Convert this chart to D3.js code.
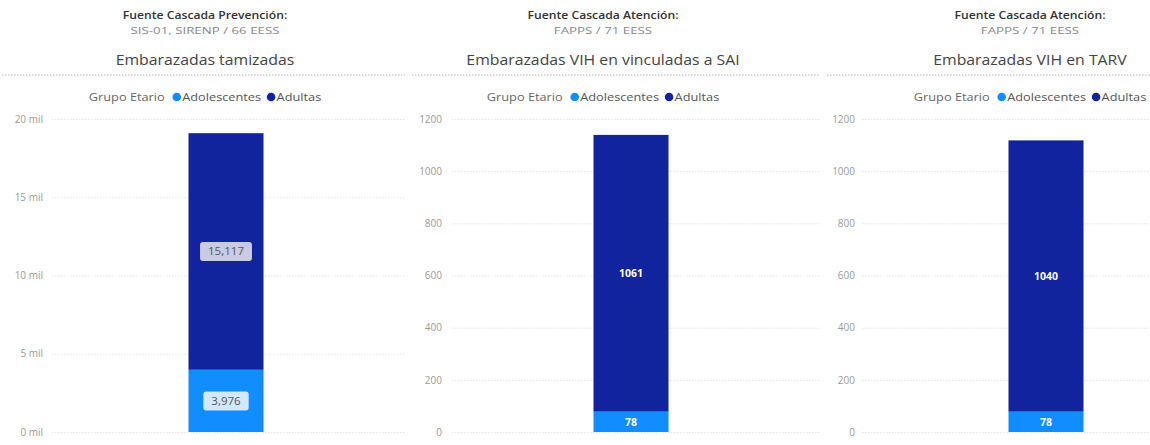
<!DOCTYPE html>
<html>
<head>
<meta charset="utf-8">
<script src="https://cdn.jsdelivr.net/npm/d3@7"></script>
<style>
  body { margin: 0; background: #fff; }
  svg { display: block; font-family: "Open Sans", "Noto Sans", sans-serif; }
</style>
</head>
<body>
<div id="chart"></div>
<script>
//Data
var sources = ["Fuente Cascada Prevención:", "Fuente Cascada Atención:", "Fuente Cascada Atención:"];
var sourceDetails = ["SIS-01, SIRENP / 66 EESS", "FAPPS / 71 EESS", "FAPPS / 71 EESS"];
var titles = ["Embarazadas tamizadas", "Embarazadas VIH en vinculadas a SAI", "Embarazadas VIH en TARV"];
var groups = ["Adolescentes", "Adultas"];
var adolescentes = [3976, 78, 78];
var adultas = [15117, 1061, 1040];
var yMax = [20000, 1200, 1200];
var ticks1 = [0, 5000, 10000, 15000, 20000];
var ticks2 = [0, 200, 400, 600, 800, 1000, 1200];
var tickLabels1 = ["0 mil", "5 mil", "10 mil", "15 mil", "20 mil"];

//Layout
var W = 1150, H = 445;
var colors = {Adolescentes: "#118DFF", Adultas: "#12239E"};
var panels = [
    {left: 0, right: 405, center: 205, axisX: 43, plotL: 52, plotR: 400},
    {left: 410, right: 820, center: 603, axisX: 442, plotL: 452, plotR: 810},
    {left: 825, right: 1150, center: 1030, axisX: 855, plotL: 862, plotR: 1230}
];
var barW = 75;

var svg = d3.select("#chart").append("svg")
    .attr("width", W)
    .attr("height", H);

//Text that is a bit wider than the installed fonts (reference is stretched)
function wideText(parent, str, x, y, size, sx, anchor) {
    return parent.append("text").text(str)
        .attr("transform", "translate(" + x + "," + y + ") scale(" + sx + ",1)")
        .attr("text-anchor", anchor || "middle")
        .attr("font-size", size);
}

panels.forEach(function (p, i) {
    var g = svg.append("g");

    //Headers
    wideText(g, sources[i], p.center, 19, 10.5, 1.16)
        .attr("font-weight", 600).attr("fill", "#333");
    wideText(g, sourceDetails[i], p.center, 34, 9.5, 1.4)
        .attr("fill", "#8a8a8a");
    wideText(g, titles[i], p.center, 65, 14, 1.13)
        .attr("fill", "#444");
    g.append("line")
        .attr("x1", p.left + 2).attr("x2", p.right)
        .attr("y1", 75).attr("y2", 75)
        .attr("stroke", "#b5b5b5").attr("stroke-width", 1)
        .attr("stroke-dasharray", "1.5,1.5");

    //Legend
    var sx = 1.16;
    var leg = g.append("g");
    var lt = wideText(leg, "Grupo Etario", 0, 0, 11, sx, "start").attr("fill", "#666");
    var xx = lt.node().getComputedTextLength() * sx + 8;
    groups.forEach(function (name) {
        leg.append("circle").attr("cx", xx + 4).attr("cy", -4).attr("r", 4.3).attr("fill", colors[name]);
        var t = wideText(leg, name, xx + 9.5, 0, 11, sx, "start").attr("fill", "#555");
        xx += 9.5 + t.node().getComputedTextLength() * sx + 6;
    });
    var legW = xx - 6;
    leg.attr("transform", "translate(" + (p.center - legW / 2) + ",101)");

    //Scales
    var y = d3.scaleLinear().domain([0, yMax[i]]).range([432, 119]);
    var ratio = barW / (p.plotR - p.plotL);
    var x = d3.scaleBand().domain([titles[i]]).range([p.plotL, p.plotR])
        .padding((1 - ratio) / (1 + ratio));

    var tv = i == 0 ? ticks1 : ticks2;
    var axis = d3.axisLeft(y).tickValues(tv)
        .tickSize(-(p.right - p.plotL))
        .tickPadding(p.plotL - p.axisX)
        .tickFormat(function (d, k) { return i == 0 ? tickLabels1[k] : d; });
    var ag = g.append("g").attr("transform", "translate(" + p.plotL + ",0)").call(axis);
    ag.select(".domain").remove();
    ag.selectAll(".tick line").attr("stroke", "#e3e3e3").attr("stroke-dasharray", "1.5,1.5");
    ag.selectAll(".tick text").attr("font-size", 10).attr("fill", "#9a9a9a")
        .attr("font-family", "\"Open Sans\", sans-serif");

    //Stacked bar
    var row = {key: titles[i], Adolescentes: adolescentes[i], Adultas: adultas[i]};
    var series = d3.stack().keys(groups)([row]);
    series.forEach(function (s) {
        var d = s[0];
        g.append("rect")
            .attr("x", x(titles[i]))
            .attr("width", x.bandwidth())
            .attr("y", y(d[1]))
            .attr("height", y(d[0]) - y(d[1]))
            .attr("fill", colors[s.key]);

        var cy = (y(d[0]) + y(d[1])) / 2;
        var cx = x(titles[i]) + x.bandwidth() / 2;
        if (i == 0) {
            var label = d3.format(",")(d[1] - d[0]);
            var lg = g.append("g");
            var bg = lg.append("rect")
                .attr("rx", 3).attr("ry", 3)
                .attr("fill", s.key == "Adultas" ? "#c9cbe6" : "#d2e8ff");
            var lt2 = wideText(lg, label, cx, cy + 3.8, 10.5, 1.1).attr("fill", "#555");
            var tw = lt2.node().getComputedTextLength() * 1.1;
            bg.attr("x", cx - tw / 2 - 8).attr("y", cy - 9.5)
                .attr("width", tw + 16).attr("height", 19);
        } else {
            g.append("text").text(d[1] - d[0])
                .attr("x", cx).attr("y", cy + 3.8)
                .attr("text-anchor", "middle")
                .attr("font-size", 10.5).attr("font-weight", 700)
                .attr("fill", "#fff");
        }
    });
});
</script>
</body>
</html>
